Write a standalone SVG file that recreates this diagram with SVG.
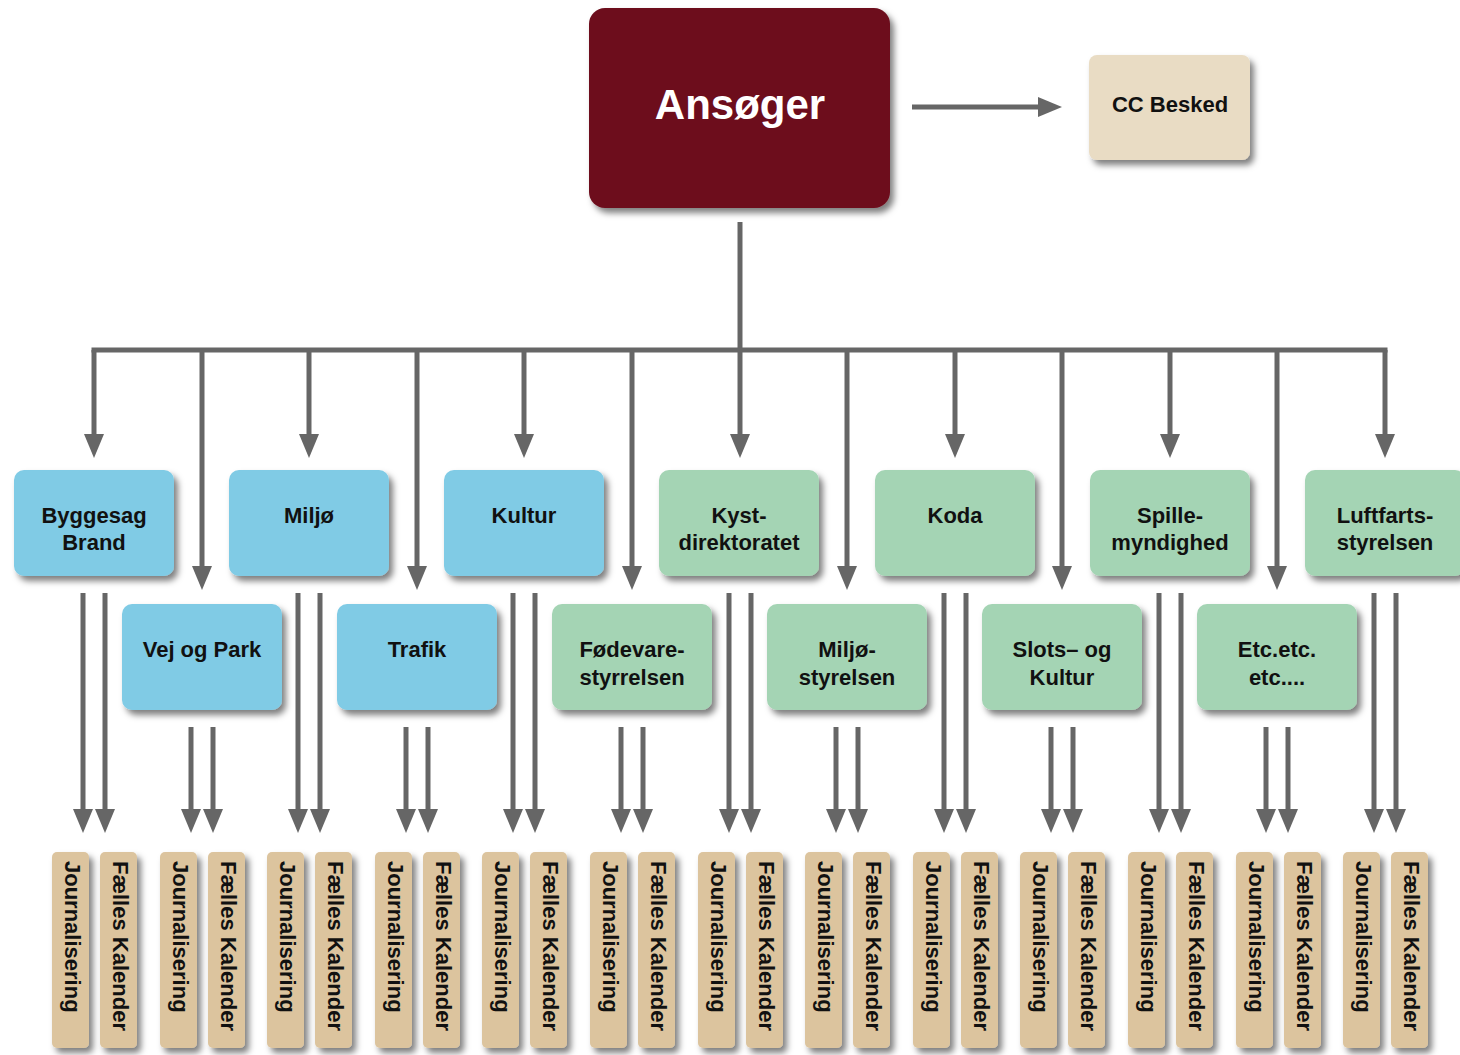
<svg xmlns="http://www.w3.org/2000/svg" width="1460" height="1055" viewBox="0 0 1460 1055">
<defs>
<filter id="sh" x="-20%" y="-20%" width="150%" height="150%">
<feDropShadow dx="4" dy="5" stdDeviation="3" flood-color="#000" flood-opacity="0.5"/>
</filter>
<marker id="ah" viewBox="0 0 24 20" refX="0" refY="10" markerWidth="24" markerHeight="20" markerUnits="userSpaceOnUse" orient="auto">
<path d="M0,0 L24,10 L0,20 Z" fill="#666"/>
</marker>
<style>
.c{stroke:#666;stroke-width:5;fill:none}
.a{marker-end:url(#ah)}
.blue{fill:#80cbe5;filter:url(#sh)}
.green{fill:#a4d4b4;filter:url(#sh)}
.bar{fill:#dcc49e;filter:url(#sh)}
.t{font-family:"Liberation Sans",Arial,sans-serif;font-weight:bold;font-size:22px;fill:#111;text-anchor:middle}
.bt{font-family:"Liberation Sans",Arial,sans-serif;font-weight:bold;font-size:22px;fill:#111}
</style>
</defs>
<rect width="1460" height="1055" fill="#fff"/>

<g id="connectors">
<line class="c a" x1="912" y1="107" x2="1038" y2="107"/>
<line class="c" x1="740" y1="222" x2="740" y2="350"/>
<line class="c" x1="91.5" y1="350" x2="1387.5" y2="350"/>
<line class="c a" x1="94" y1="350" x2="94" y2="434"/>
<line class="c a" x1="309" y1="350" x2="309" y2="434"/>
<line class="c a" x1="524" y1="350" x2="524" y2="434"/>
<line class="c a" x1="740" y1="350" x2="740" y2="434"/>
<line class="c a" x1="955" y1="350" x2="955" y2="434"/>
<line class="c a" x1="1170" y1="350" x2="1170" y2="434"/>
<line class="c a" x1="1385" y1="350" x2="1385" y2="434"/>
<line class="c a" x1="202" y1="350" x2="202" y2="566"/>
<line class="c a" x1="417" y1="350" x2="417" y2="566"/>
<line class="c a" x1="632" y1="350" x2="632" y2="566"/>
<line class="c a" x1="847" y1="350" x2="847" y2="566"/>
<line class="c a" x1="1062" y1="350" x2="1062" y2="566"/>
<line class="c a" x1="1277" y1="350" x2="1277" y2="566"/>

<line class="c a" x1="83" y1="593" x2="83" y2="809"/>
<line class="c a" x1="105" y1="593" x2="105" y2="809"/>
<line class="c a" x1="298" y1="593" x2="298" y2="809"/>
<line class="c a" x1="320" y1="593" x2="320" y2="809"/>
<line class="c a" x1="513" y1="593" x2="513" y2="809"/>
<line class="c a" x1="535" y1="593" x2="535" y2="809"/>
<line class="c a" x1="729" y1="593" x2="729" y2="809"/>
<line class="c a" x1="751" y1="593" x2="751" y2="809"/>
<line class="c a" x1="944" y1="593" x2="944" y2="809"/>
<line class="c a" x1="966" y1="593" x2="966" y2="809"/>
<line class="c a" x1="1159" y1="593" x2="1159" y2="809"/>
<line class="c a" x1="1181" y1="593" x2="1181" y2="809"/>
<line class="c a" x1="1374" y1="593" x2="1374" y2="809"/>
<line class="c a" x1="1396" y1="593" x2="1396" y2="809"/>

<line class="c a" x1="191" y1="727" x2="191" y2="809"/>
<line class="c a" x1="213" y1="727" x2="213" y2="809"/>
<line class="c a" x1="406" y1="727" x2="406" y2="809"/>
<line class="c a" x1="428" y1="727" x2="428" y2="809"/>
<line class="c a" x1="621" y1="727" x2="621" y2="809"/>
<line class="c a" x1="643" y1="727" x2="643" y2="809"/>
<line class="c a" x1="836" y1="727" x2="836" y2="809"/>
<line class="c a" x1="858" y1="727" x2="858" y2="809"/>
<line class="c a" x1="1051" y1="727" x2="1051" y2="809"/>
<line class="c a" x1="1073" y1="727" x2="1073" y2="809"/>
<line class="c a" x1="1266" y1="727" x2="1266" y2="809"/>
<line class="c a" x1="1288" y1="727" x2="1288" y2="809"/>
</g>

<g id="ansoger">
<rect x="589" y="8" width="301" height="200" rx="16" fill="#6d0f1f" filter="url(#sh)"/>
<text x="740" y="119" font-family="'Liberation Sans',Arial,sans-serif" font-weight="bold" font-size="42" fill="#fff" text-anchor="middle">Ansøger</text>
</g>
<g id="cc-besked">
<rect x="1089" y="55" width="161" height="105" rx="8" fill="#e9dcc4" filter="url(#sh)"/>
<text class="t" x="1170" y="112">CC Besked</text>
</g>

<g id="byggesag"><rect class="blue" x="14" y="470" width="160" height="106" rx="10"/><text class="t" x="94" y="523">Byggesag</text><text class="t" x="94" y="550">Brand</text></g>
<g id="miljo"><rect class="blue" x="229" y="470" width="160" height="106" rx="10"/><text class="t" x="309" y="523">Miljø</text></g>
<g id="kultur"><rect class="blue" x="444" y="470" width="160" height="106" rx="10"/><text class="t" x="524" y="523">Kultur</text></g>
<g id="kystdirektoratet"><rect class="green" x="659" y="470" width="160" height="106" rx="10"/><text class="t" x="739" y="523">Kyst-</text><text class="t" x="739" y="550">direktoratet</text></g>
<g id="koda"><rect class="green" x="875" y="470" width="160" height="106" rx="10"/><text class="t" x="955" y="523">Koda</text></g>
<g id="spillemyndighed"><rect class="green" x="1090" y="470" width="160" height="106" rx="10"/><text class="t" x="1170" y="523">Spille-</text><text class="t" x="1170" y="550">myndighed</text></g>
<g id="luftfartsstyrelsen"><rect class="green" x="1305" y="470" width="160" height="106" rx="10"/><text class="t" x="1385" y="523">Luftfarts-</text><text class="t" x="1385" y="550">styrelsen</text></g>

<g id="vejogpark"><rect class="blue" x="122" y="604" width="160" height="106" rx="10"/><text class="t" x="202" y="657">Vej og Park</text></g>
<g id="trafik"><rect class="blue" x="337" y="604" width="160" height="106" rx="10"/><text class="t" x="417" y="657">Trafik</text></g>
<g id="fodevarestyrelsen"><rect class="green" x="552" y="604" width="160" height="106" rx="10"/><text class="t" x="632" y="657">Fødevare-</text><text class="t" x="632" y="685">styrrelsen</text></g>
<g id="miljostyrelsen"><rect class="green" x="767" y="604" width="160" height="106" rx="10"/><text class="t" x="847" y="657">Miljø-</text><text class="t" x="847" y="685">styrelsen</text></g>
<g id="slotsogkultur"><rect class="green" x="982" y="604" width="160" height="106" rx="10"/><text class="t" x="1062" y="657">Slots– og</text><text class="t" x="1062" y="685">Kultur</text></g>
<g id="etc"><rect class="green" x="1197" y="604" width="160" height="106" rx="10"/><text class="t" x="1277" y="657">Etc.etc.</text><text class="t" x="1277" y="685">etc....</text></g>

<g id="bars">
<g id="p1"><rect class="bar" x="52" y="852" width="37" height="196" rx="5"/><text class="bt" transform="translate(65,861) rotate(90)">Journalisering</text><rect class="bar" x="100" y="852" width="37" height="196" rx="5"/><text class="bt" transform="translate(113,861) rotate(90)">Fælles Kalender</text></g>
<g id="p2"><rect class="bar" x="160" y="852" width="37" height="196" rx="5"/><text class="bt" transform="translate(173,861) rotate(90)">Journalisering</text><rect class="bar" x="208" y="852" width="37" height="196" rx="5"/><text class="bt" transform="translate(221,861) rotate(90)">Fælles Kalender</text></g>
<g id="p3"><rect class="bar" x="267" y="852" width="37" height="196" rx="5"/><text class="bt" transform="translate(280,861) rotate(90)">Journalisering</text><rect class="bar" x="315" y="852" width="37" height="196" rx="5"/><text class="bt" transform="translate(328,861) rotate(90)">Fælles Kalender</text></g>
<g id="p4"><rect class="bar" x="375" y="852" width="37" height="196" rx="5"/><text class="bt" transform="translate(388,861) rotate(90)">Journalisering</text><rect class="bar" x="423" y="852" width="37" height="196" rx="5"/><text class="bt" transform="translate(436,861) rotate(90)">Fælles Kalender</text></g>
<g id="p5"><rect class="bar" x="482" y="852" width="37" height="196" rx="5"/><text class="bt" transform="translate(495,861) rotate(90)">Journalisering</text><rect class="bar" x="530" y="852" width="37" height="196" rx="5"/><text class="bt" transform="translate(543,861) rotate(90)">Fælles Kalender</text></g>
<g id="p6"><rect class="bar" x="590" y="852" width="37" height="196" rx="5"/><text class="bt" transform="translate(603,861) rotate(90)">Journalisering</text><rect class="bar" x="638" y="852" width="37" height="196" rx="5"/><text class="bt" transform="translate(651,861) rotate(90)">Fælles Kalender</text></g>
<g id="p7"><rect class="bar" x="698" y="852" width="37" height="196" rx="5"/><text class="bt" transform="translate(711,861) rotate(90)">Journalisering</text><rect class="bar" x="746" y="852" width="37" height="196" rx="5"/><text class="bt" transform="translate(759,861) rotate(90)">Fælles Kalender</text></g>
<g id="p8"><rect class="bar" x="805" y="852" width="37" height="196" rx="5"/><text class="bt" transform="translate(818,861) rotate(90)">Journalisering</text><rect class="bar" x="853" y="852" width="37" height="196" rx="5"/><text class="bt" transform="translate(866,861) rotate(90)">Fælles Kalender</text></g>
<g id="p9"><rect class="bar" x="913" y="852" width="37" height="196" rx="5"/><text class="bt" transform="translate(926,861) rotate(90)">Journalisering</text><rect class="bar" x="961" y="852" width="37" height="196" rx="5"/><text class="bt" transform="translate(974,861) rotate(90)">Fælles Kalender</text></g>
<g id="p10"><rect class="bar" x="1020" y="852" width="37" height="196" rx="5"/><text class="bt" transform="translate(1033,861) rotate(90)">Journalisering</text><rect class="bar" x="1068" y="852" width="37" height="196" rx="5"/><text class="bt" transform="translate(1081,861) rotate(90)">Fælles Kalender</text></g>
<g id="p11"><rect class="bar" x="1128" y="852" width="37" height="196" rx="5"/><text class="bt" transform="translate(1141,861) rotate(90)">Journalisering</text><rect class="bar" x="1176" y="852" width="37" height="196" rx="5"/><text class="bt" transform="translate(1189,861) rotate(90)">Fælles Kalender</text></g>
<g id="p12"><rect class="bar" x="1236" y="852" width="37" height="196" rx="5"/><text class="bt" transform="translate(1249,861) rotate(90)">Journalisering</text><rect class="bar" x="1284" y="852" width="37" height="196" rx="5"/><text class="bt" transform="translate(1297,861) rotate(90)">Fælles Kalender</text></g>
<g id="p13"><rect class="bar" x="1343" y="852" width="37" height="196" rx="5"/><text class="bt" transform="translate(1356,861) rotate(90)">Journalisering</text><rect class="bar" x="1391" y="852" width="37" height="196" rx="5"/><text class="bt" transform="translate(1404,861) rotate(90)">Fælles Kalender</text></g>
</g>
</svg>
